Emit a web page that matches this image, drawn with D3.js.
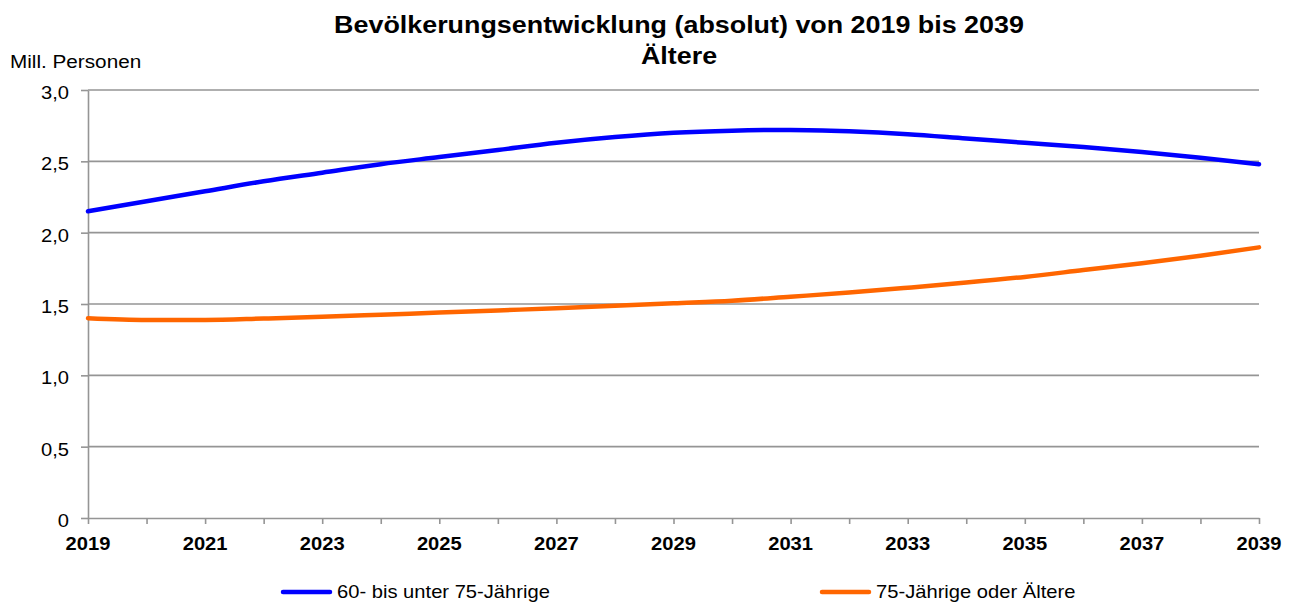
<!DOCTYPE html>
<html lang="de">
<head>
    <meta charset="UTF-8">
    <title>Bevölkerungsentwicklung Ältere</title>
    <script src="https://d3js.org/d3.v7.min.js"></script>
    <style>
        body { margin: 0; background: #fff; }
        svg text { font-family: "Liberation Sans", Arial, sans-serif; fill: #000; }
    </style>
</head>
<body>
<script>
    const years = d3.range(2019, 2040)
    const yTicks = [0, 0.5, 1.0, 1.5, 2.0, 2.5, 3.0]
    const xLabelYears = [2019, 2021, 2023, 2025, 2027, 2029, 2031, 2033, 2035, 2037, 2039]
    const seriesNames = ['60- bis unter 75-Jährige', '75-Jährige oder Ältere']
    const age60to75 = [2.15, 2.22, 2.29, 2.36, 2.42, 2.48, 2.53, 2.58, 2.63, 2.67, 2.70,
        2.715, 2.72, 2.71, 2.69, 2.66, 2.63, 2.60, 2.565, 2.525, 2.48]
    const age75plus = [1.40, 1.388, 1.388, 1.398, 1.41, 1.425, 1.44, 1.455, 1.47, 1.487, 1.505,
        1.523, 1.551, 1.58, 1.614, 1.65, 1.69, 1.738, 1.786, 1.838, 1.897]
    const colors = ['#0000ff', '#ff6600']

    const width = 1294
    const height = 602
    const plotLeft = 88, plotRight = 1259, plotTop = 90, plotBottom = 518
    const sx = 1.12 // source text looks horizontally stretched

    const svg = d3.select("body").append("svg")
        .attr("width", width)
        .attr("height", height)

    const xScale = d3.scaleLinear().domain([2019, 2039]).range([plotLeft, plotRight])
    const yScale = d3.scaleLinear().domain([0, 3]).range([plotBottom, plotTop])

    function label(txt, x, y, size, anchor, bold) {
        return svg.append("text")
            .text(txt)
            .attr("transform", "translate(" + x + "," + y + ") scale(" + sx + ",1)")
            .attr("font-size", size)
            .attr("font-weight", bold ? "bold" : "normal")
            .attr("text-anchor", anchor)
    }

    // gridlines
    svg.append("g")
        .selectAll("line")
        .data(yTicks.filter(d => d > 0))
        .join("line")
        .attr("x1", plotLeft).attr("x2", plotRight)
        .attr("y1", d => yScale(d)).attr("y2", d => yScale(d))
        .attr("stroke", "#959595")
        .attr("stroke-width", 1.6)

    // y axis
    const yAxis = d3.axisLeft(yScale).tickValues(yTicks).tickSize(7).tickSizeOuter(0).tickFormat("")
    svg.append("g")
        .attr("transform", "translate(" + plotLeft + ",0)")
        .call(yAxis)
        .call(g => g.selectAll("path, line").attr("stroke", "#959595").attr("stroke-width", 1.6))
    yTicks.forEach(function (d) {
        label(d === 0 ? "0" : d3.format(".1f")(d).replace(".", ","), 69, yScale(d) + 9, 18, "end", false)
    })

    // x axis
    const xAxis = d3.axisBottom(xScale).tickValues(years).tickSize(6).tickSizeOuter(0).tickFormat("")
    svg.append("g")
        .attr("transform", "translate(0," + plotBottom + ")")
        .call(xAxis)
        .call(g => g.selectAll("path, line").attr("stroke", "#959595").attr("stroke-width", 1.6))
    xLabelYears.forEach(function (d) {
        label(d, xScale(d), 550, 18, "middle", true)
    })

    // lines
    const line = d3.line()
        .x((d, i) => xScale(years[i]))
        .y(d => yScale(d))
        .curve(d3.curveMonotoneX)
    ;[age60to75, age75plus].forEach(function (s, i) {
        svg.append("path")
            .attr("d", line(s))
            .attr("fill", "none")
            .attr("stroke", colors[i])
            .attr("stroke-width", 4.5)
            .attr("stroke-linecap", "round")
    })

    // titles
    label("Bevölkerungsentwicklung (absolut) von 2019 bis 2039", 679, 33, 24, "middle", true)
    label("Ältere", 679, 64, 24, "middle", true)
    label("Mill. Personen", 10, 68, 18.5, "start", false)

    // legend
    const legendX = [283, 822]
    seriesNames.forEach(function (n, i) {
        svg.append("line")
            .attr("x1", legendX[i]).attr("x2", legendX[i] + 47)
            .attr("y1", 592).attr("y2", 592)
            .attr("stroke", colors[i])
            .attr("stroke-width", 4.5)
            .attr("stroke-linecap", "round")
        label(n, legendX[i] + 54, 598, 18, "start", false)
    })
</script>
</body>
</html>
